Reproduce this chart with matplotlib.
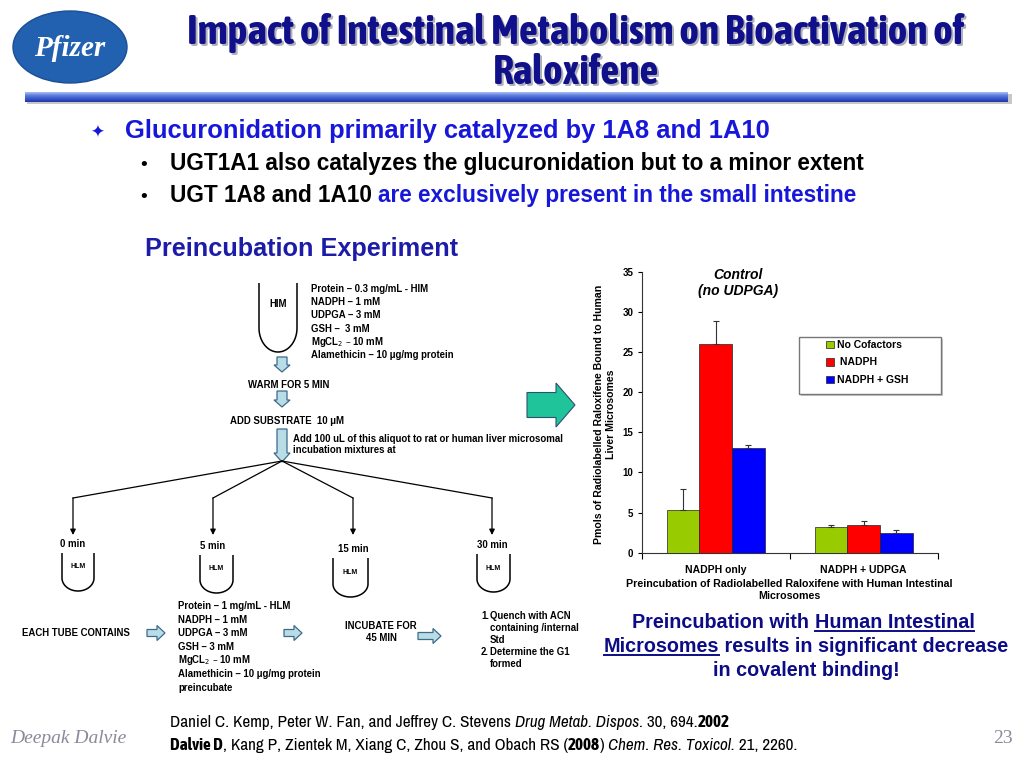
import numpy as np
import matplotlib
matplotlib.use("Agg")
import matplotlib.pyplot as plt
import matplotlib.font_manager as fm
from matplotlib.patches import Polygon, Rectangle, Ellipse, PathPatch
from matplotlib.path import Path

# ---------------- data ----------------
categories = ["NADPH only", "NADPH + UDPGA"]
series_names = ["No Cofactors", " NADPH", "NADPH + GSH"]
no_cofactors = [5.3, 3.2]
nadph = [26.0, 3.4]
nadph_gsh = [13.0, 2.5]
err_no_cofactors = [2.6, 0.2]
err_nadph = [2.9, 0.5]
err_nadph_gsh = [0.4, 0.3]
y_ticks = [0, 5, 10, 15, 20, 25, 30, 35]
colors = ["#99cc00", "#ff0000", "#0000ff"]

names = {f.name for f in fm.fontManager.ttflist}
SANS = "Liberation Sans"
SERIF = "Liberation Serif"
TITLE_FONT = "Asap Condensed" if "Asap Condensed" in names else SANS
NARROW = "Archivo Narrow" if "Archivo Narrow" in names else SANS
NARROW_BOLD = "Asap Condensed" if "Asap Condensed" in names else SANS

fig = plt.figure(figsize=(10.24, 7.68), dpi=100)
bg = fig.add_axes([0, 0, 1, 1])
bg.set_xlim(0, 1024)
bg.set_ylim(768, 0)
bg.axis("off")
R = fig.canvas.get_renderer()


def measure(s, **kw):
    t = bg.text(0, 0, "|" + s + "|", **kw)
    w1 = t.get_window_extent(R).width
    t.remove()
    t = bg.text(0, 0, "||", **kw)
    w0 = t.get_window_extent(R).width
    t.remove()
    return w1 - w0


def rich_width(parts, **base):
    tot = 0
    for s, st in parts:
        kw = dict(base)
        kw.update({k: v for k, v in st.items() if k != "underline"})
        tot += measure(s, **kw)
    return tot


def rich(x, y, parts, ha="left", **base):
    widths = []
    for s, st in parts:
        kw = dict(base)
        kw.update({k: v for k, v in st.items() if k != "underline"})
        widths.append(measure(s, **kw))
    total = sum(widths)
    cur = x if ha == "left" else x - total / 2
    for (s, st), w in zip(parts, widths):
        kw = dict(base)
        kw.update({k: v for k, v in st.items() if k != "underline"})
        bg.text(cur, y, s, ha="left", va="baseline", **kw)
        if st.get("underline"):
            sw = measure(s.rstrip(), **kw)
            bg.plot([cur, cur + sw], [y + 2.5, y + 2.5], color=kw.get("color", "k"), lw=1.4)
        cur += w


# ---------------- header ----------------
bg.add_patch(Ellipse((70, 47), 114, 72, facecolor="#2260b0", edgecolor="#1a4f96", lw=1))
bg.text(70, 49, "Pfizer", family=SERIF, style="italic", weight="bold", fontsize=21,
        color="white", ha="center", va="center")

title1 = "Impact of Intestinal Metabolism on Bioactivation of"
title2 = "Raloxifene"
tfs = 27 * 823 / measure(title1, family=TITLE_FONT, weight="bold", fontsize=27)
tfs = min(tfs, 30)
title_kw = dict(family=TITLE_FONT, weight="bold", fontsize=tfs, ha="center", va="baseline")
for txt, yb in [(title1, 44), (title2, 84)]:
    bg.text(578, yb + 2, txt, color="#b0b0b8", **title_kw)
    bg.text(576, yb, txt, color="#10108a", **title_kw)

grad = np.linspace(0, 1, 20).reshape(-1, 1)
cmap = matplotlib.colors.LinearSegmentedColormap.from_list(
    "g", ["#a8bcf2", "#5b7be0", "#3a58cc", "#24399e"])
bg.add_patch(Rectangle((27, 94), 985, 10, color="#c8c8c8", lw=0))
bg.imshow(grad, cmap=cmap, extent=(25, 1008, 102, 92), aspect="auto", zorder=2)
bg.set_xlim(0, 1024)
bg.set_ylim(768, 0)

# ---------------- bullets ----------------
BLUE = "#1717d9"
bg.text(97, 138, "\u2726", color=BLUE, fontsize=12, ha="center", va="baseline", family="DejaVu Sans")
bg.text(125, 138, "Glucuronidation primarily catalyzed by 1A8 and 1A10", color=BLUE,
        family=SANS, weight="bold", fontsize=18.4, va="baseline")
bg.text(144, 170, "\u2022", color="black", fontsize=13, ha="center", va="baseline")
bg.text(170, 170, "UGT1A1 also catalyzes the glucuronidation but to a minor extent",
        color="black", family=SANS, weight="bold", fontsize=16.3, va="baseline")
bg.text(144, 202, "\u2022", color="black", fontsize=13, ha="center", va="baseline")
rich(170, 202, [("UGT 1A8 and 1A10 ", dict(color="black")),
                ("are exclusively present in the small intestine", dict(color=BLUE))],
     family=SANS, weight="bold", fontsize=16.3)
bg.text(145, 256, "Preincubation Experiment", color="#1c1ca8", family=SANS,
        weight="bold", fontsize=18.2, va="baseline")

# ---------------- flow diagram ----------------
SMALL = dict(family=SANS, weight="bold", fontsize=6.9, color="black")


def tube(x0, x1, ytop, ybot, depth, lw=1.1):
    cx, cy = (x0 + x1) / 2, ybot - depth
    t = np.linspace(np.pi, 0, 40)
    pts = [(x0, ytop), (x0, cy)] + list(zip(cx + (x1 - x0) / 2 * np.cos(t), cy + depth * np.sin(t))) + [(x1, ytop)]
    bg.add_patch(PathPatch(Path(pts), facecolor="none", edgecolor="black", lw=lw))


def down_arrow(cx, y0, y1, sw=5, hw=8, hl=7):
    pts = [(cx - sw, y0), (cx + sw, y0), (cx + sw, y1 - hl), (cx + hw, y1 - hl), (cx, y1),
           (cx - hw, y1 - hl), (cx - sw, y1 - hl)]
    bg.add_patch(Polygon(pts, closed=True, facecolor="#b9dde6", edgecolor="#3d6b8a", lw=0.9))


def right_arrow(x0, x1, cy, sh=3.5, hh=7.5, hl=8, fc="#b9dde6", ec="#3d6b8a", lw=0.9):
    pts = [(x0, cy - sh), (x1 - hl, cy - sh), (x1 - hl, cy - hh), (x1, cy), (x1 - hl, cy + hh),
           (x1 - hl, cy + sh), (x0, cy + sh)]
    bg.add_patch(Polygon(pts, closed=True, facecolor=fc, edgecolor=ec, lw=lw))


tube(259, 297, 283, 352, 24)
bg.text(278, 304, "HIM", ha="center", va="center", **SMALL)
him_lines = ["Protein \u2013 0.3 mg/mL - HIM", "NADPH \u2013 1 mM", "UDPGA \u2013 3 mM",
             "GSH \u2013  3 mM", "MgCL$_2$ \u2013 10 mM", "Alamethicin \u2013 10 \u03bcg/mg protein"]
for i, s in enumerate(him_lines):
    bg.text(311, 289 + i * 13.2, s, va="center", ha="left", **SMALL)

down_arrow(282, 357, 372)
bg.text(289, 385, "WARM FOR 5 MIN", ha="center", va="center", **SMALL)
down_arrow(282, 391, 407)
bg.text(230, 421, "ADD SUBSTRATE  10 \u03bcM", ha="left", va="center", **SMALL)
down_arrow(282, 429, 462, hl=9)
bg.text(293, 439, "Add 100 uL of this aliquot to rat or human liver microsomal", va="center", **SMALL)
bg.text(293, 450, "incubation mixtures at", va="center", **SMALL)

branch_x = [73, 213, 353, 492]
times = ["0 min", "5 min", "15 min", "30 min"]
tubes = [(62, 94, 553, 591), (200, 233, 555, 593), (333, 368, 558, 597), (477, 510, 554, 592)]
for bx, tm, (x0, x1, yt, yb) in zip(branch_x, times, tubes):
    bg.plot([282, bx], [461, 498], color="black", lw=0.9)
    bg.annotate("", xy=(bx, 535), xytext=(bx, 498),
                arrowprops=dict(arrowstyle="-|>", color="black", lw=0.9, mutation_scale=8,
                                shrinkA=0, shrinkB=0))
    bg.text(bx, (yt - 9), tm, ha="center", va="center", **SMALL)
    tube(x0, x1, yt, yb, 13)
    bg.text((x0 + x1) / 2, yt + 14, "HLM", ha="center", va="center",
            family=SANS, weight="bold", fontsize=5, color="black")

bg.text(22, 633, "EACH TUBE CONTAINS", va="center", **SMALL)
right_arrow(147, 165, 633)
hlm_lines = ["Protein \u2013 1 mg/mL - HLM", "NADPH \u2013 1 mM", "UDPGA \u2013 3 mM", "GSH \u2013 3 mM",
             "MgCL$_2$ \u2013 10 mM", "Alamethicin \u2013 10 \u03bcg/mg protein", "preincubate"]
for i, s in enumerate(hlm_lines):
    bg.text(178, 606 + i * 13.6, s, va="center", **SMALL)
right_arrow(284, 302, 633)
bg.text(381, 632, "INCUBATE FOR\n45 MIN", ha="center", va="center", linespacing=1.3, **SMALL)
right_arrow(418, 441, 636)
quench = [("1.", "Quench with ACN"), ("", "containing /internal"), ("", "Std"),
          ("2.", "Determine the G1"), ("", "formed")]
for i, (n, s) in enumerate(quench):
    yy = 616 + i * 12
    if n:
        bg.text(481, yy, n, va="center", **SMALL)
    bg.text(490, yy, s, va="center", **SMALL)

# big green arrow
right_arrow(527, 575, 405, sh=12.5, hh=22, hl=19, fc="#1fc49b", ec="#2f4f6f", lw=0.8)

# ---------------- bar chart ----------------
ax = fig.add_axes([641.7 / 1024, 1 - 552.7 / 768, 296 / 1024, 281 / 768])
ax.set_facecolor("none")
x = np.arange(len(categories))
w = 0.2214
vals = [no_cofactors, nadph, nadph_gsh]
errs = [err_no_cofactors, err_nadph, err_nadph_gsh]
handles = []
for i, (v, e, c) in enumerate(zip(vals, errs, colors)):
    b = ax.bar(x + (i - 1) * w, v, w, color=c, edgecolor="#222222", lw=0.5,
               yerr=[np.zeros(len(e)), e], error_kw=dict(ecolor="#333333", elinewidth=0.8,
                                                           capsize=2.2, capthick=0.8),
               label=series_names[i], zorder=3)
    handles.append(b)
ax.set_xlim(-0.5, 1.5)
ax.set_ylim(0, 35)
ax.set_yticks(y_ticks)
ax.set_yticklabels([str(t) for t in y_ticks], fontsize=7, fontweight="bold", family=SANS)
ax.set_xticks(x)
ax.set_xticklabels(categories, fontsize=7.5, fontweight="bold", family=SANS)
ax.set_xticks([-0.5, 0.5, 1.5], minor=True)
ax.tick_params(axis="x", which="major", length=0, pad=9)
ax.tick_params(axis="x", which="minor", length=4, width=0.8, direction="out")
ax.tick_params(axis="y", length=3, width=0.8, direction="out", pad=3)
for s in ["top", "right"]:
    ax.spines[s].set_visible(False)
for s in ["left", "bottom"]:
    ax.spines[s].set_linewidth(0.8)
    ax.spines[s].set_color("#333333")

bg.text(605, 414, "Pmols of Radiolabelled Raloxifene Bound to Human\nLiver Microsomes",
        rotation=90, ha="center", va="center", multialignment="center", linespacing=1.3,
        family=SANS, weight="bold", fontsize=7.6, color="black")
bg.text(789, 590, "Preincubation of Radiolabelled Raloxifene with Human Intestinal\nMicrosomes",
        ha="center", va="center", multialignment="center", linespacing=1.35,
        family=SANS, weight="bold", fontsize=7.7, color="black")
bg.text(738, 283, "Control\n(no UDPGA)", ha="center", va="center", linespacing=1.15,
        family=SANS, weight="bold", style="italic", fontsize=10, color="black")

# legend frame + legend
bg.add_patch(Rectangle((801, 339), 142, 57, facecolor="#c8c8c8", edgecolor="none", zorder=0.5))
bg.add_patch(Rectangle((799, 337), 142, 57, facecolor="white", edgecolor="#777777", lw=1, zorder=0.6))
ax.legend(handles=handles, loc="upper left", bbox_to_anchor=(826 / 1024, 1 - 340 / 768),
          bbox_transform=fig.transFigure, frameon=False, borderpad=0, borderaxespad=0,
          handlelength=0.75, handleheight=0.75, handletextpad=0.35, labelspacing=0.72,
          prop=dict(family=SANS, weight="bold", size=7.5))

# conclusion text
NAVY = "#0c0c86"
ck = dict(family=SANS, weight="bold", fontsize=14.2, color=NAVY)
rich(806, 628, [("Preincubation with ", {}), ("Human Intestinal ", dict(underline=True))],
     ha="center", **ck)
rich(806, 652, [("Microsomes", dict(underline=True)), (" results in significant decrease", {})],
     ha="center", **ck)
rich(806, 676, [("in covalent binding!", {})], ha="center", **ck)

# ---------------- footer ----------------
bg.text(10, 743, "Deepak Dalvie", family=SERIF, style="italic", fontsize=14,
        color="#8a8a9a", va="baseline")
bg.text(1013, 743, "23", family=SERIF, fontsize=14, color="#8a8a9a", va="baseline", ha="right")
BOLD = dict(family=NARROW_BOLD, weight="bold")
ref1 = [("Daniel C. Kemp, Peter W. Fan, and Jeffrey C. Stevens ", {}),
        ("Drug Metab. Dispos.", dict(style="italic")),
        (" 30, 694.", {}), ("2002", BOLD)]
ref2 = [("Dalvie D", BOLD),
        (", Kang P, Zientek M, Xiang C, Zhou S, and Obach RS (", {}),
        ("2008", BOLD), (") ", {}),
        ("Chem. Res. Toxicol.", dict(style="italic")), (" 21, 2260.", {})]
ffs = 11.5 * 557 / rich_width(ref1, family=NARROW, fontsize=11.5)
fk = dict(family=NARROW, fontsize=ffs, color="black")
rich(170, 727, ref1, **fk)
rich(170, 750, ref2, **fk)

fig.savefig("out.png", dpi=100)
